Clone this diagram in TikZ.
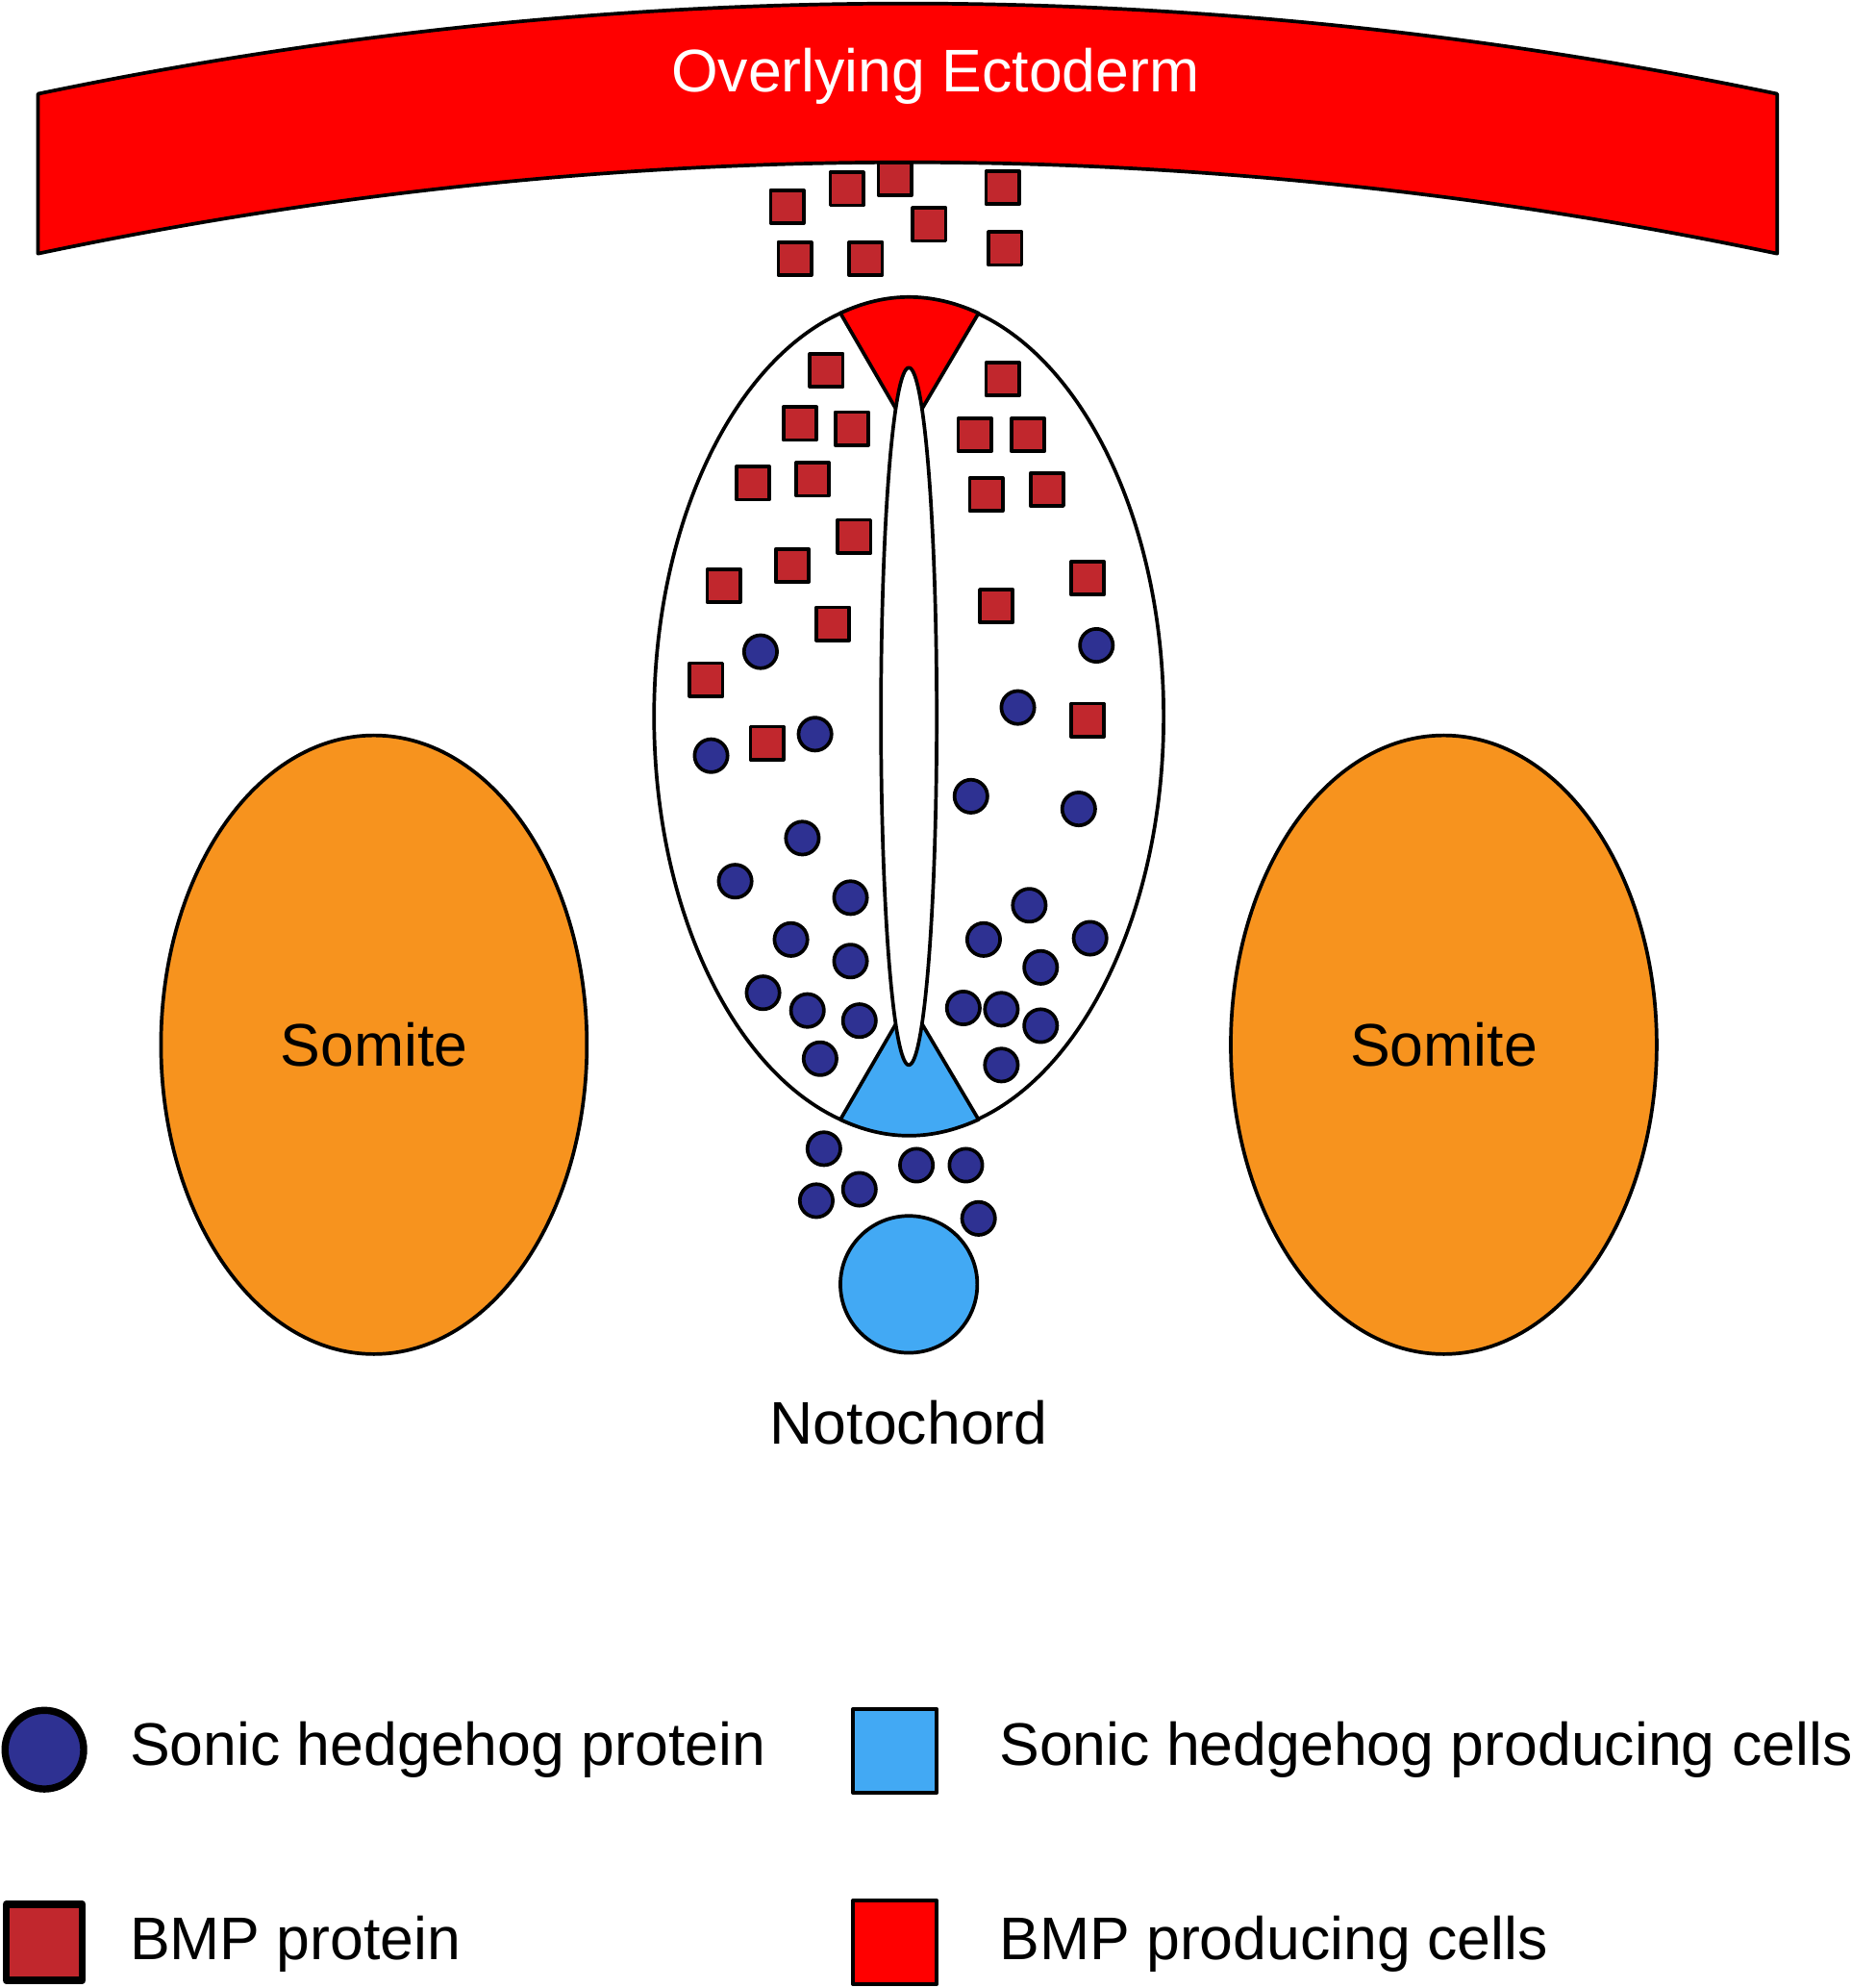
\documentclass[tikz,border=0pt]{standalone}
\usepackage{fontspec}
\setmainfont{Liberation Sans}
\begin{document}
\begin{tikzpicture}[x=0.01cm,y=-0.01cm,line join=round]
  \definecolor{bmpred}{HTML}{C1272D}
  \definecolor{shhblue}{HTML}{2E3192}
  \definecolor{floorblue}{HTML}{42A9F4}
  \definecolor{somiteorange}{HTML}{F7931E}
  \tikzstyle{bmp}=[rectangle,draw=black,thick,fill=bmpred,minimum size=0.26cm,inner sep=0pt]
  \tikzstyle{shh}=[circle,draw=black,thick,fill=shhblue,minimum size=0.26cm,inner sep=0pt]
  \tikzstyle{label}=[font=\fontsize{13.5}{16}\selectfont]
  \useasboundingbox (0,0) rectangle (1460,1568);
  % ectoderm
  \draw[thick,fill=red] (30,74) .. controls (487,-21) and (945,-21) .. (1402,74)
    -- (1402,200) .. controls (945,104) and (487,104) .. (30,200) -- cycle;
  \node[label,text=white] (ecto) at (738,60) {Overlying Ectoderm};
  % somites
  \draw[thick,fill=somiteorange] (295,824) ellipse [x radius=168,y radius=244];
  \draw[thick,fill=somiteorange] (1139,824) ellipse [x radius=168,y radius=244];
  \node[label] (somL) at (295,824) {Somite};
  \node[label] (somR) at (1139,824) {Somite};
  % neural tube
  \draw[thick,fill=white] (717,565) ellipse [x radius=201,y radius=330];
  \draw[thick,fill=red] (663,247) .. controls (699,230) and (735,230) .. (772,247) -- (717,340) -- cycle;
  \draw[thick,fill=floorblue] (663,883) -- (717,790) -- (772,883) .. controls (735,900) and (699,900) .. (663,883) -- cycle;
  \draw[thick,fill=white] (717,565) ellipse [x radius=22,y radius=275];
  % notochord
  \draw[thick,fill=floorblue] (717,1013) circle [radius=54];
  \node[label] (noto) at (717,1122) {Notochord};
  % BMP protein
  \foreach \x/\y in {621/163,668/149,706/141,733/177,791/148,627/204,683/204,793/196,
    652/292,791/299,631/334,672/338,769/343,811/343,594/381,641/378,778/390,826/386,
    674/423,571/462,625/446,858/456,786/478,657/492,557/536,858/568,605/586}
    \node[bmp] at (\x,\y) {};
  % Shh protein
  \foreach \x/\y in {600/514,865/509,803/558,561/596,643/579,766/628,851/638,633/661,
    580/695,671/708,812/714,624/741,776/741,860/740,671/758,821/763,602/783,637/797,
    678/805,760/795,790/796,821/809,647/835,790/840,650/906,723/919,762/919,678/938,
    644/947,772/961}
    \node[shh] at (\x,\y) {};
  % legend
  \node[shh,minimum size=0.62cm,line width=1.6pt] (keyshh) at (35,1380) {};
  \node[bmp,minimum size=0.6cm,line width=1.6pt] (keybmp) at (35,1532) {};
  \node[rectangle,draw=black,thick,fill=floorblue,minimum size=0.66cm] (keyfloor) at (706,1381) {};
  \node[rectangle,draw=black,thick,fill=red,minimum size=0.66cm] (keyroof) at (706,1532) {};
  \node[label,anchor=west] at (90,1380) {Sonic hedgehog protein};
  \node[label,anchor=west] at (90,1533) {BMP protein};
  \node[label,anchor=west] at (776,1380) {Sonic hedgehog producing cells};
  \node[label,anchor=west] at (776,1533) {BMP producing cells};
\end{tikzpicture}
\end{document}
